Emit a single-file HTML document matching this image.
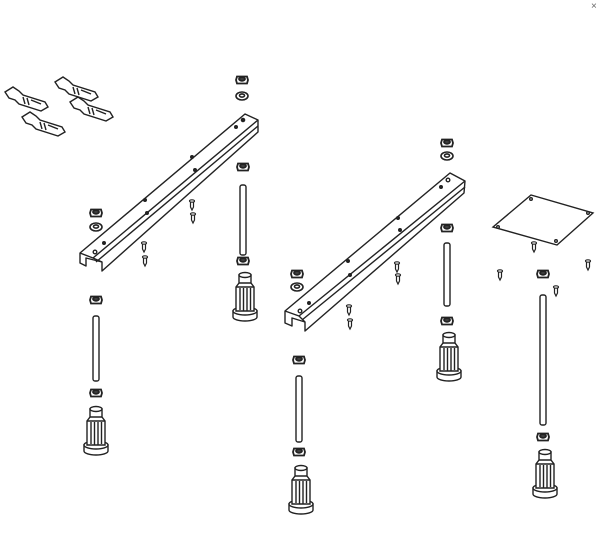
<!DOCTYPE html>
<html><head><meta charset="utf-8"><style>html,body{margin:0;padding:0;background:#fff}svg{display:block}</style></head>
<body>
<svg width="600" height="548" viewBox="0 0 600 548" xmlns="http://www.w3.org/2000/svg">
<defs>
<g id="nut" fill="#fff" stroke="#222" stroke-width="1.8">
<path d="M-5,-3.5 L5,-3.5 L6,0 L5,3.5 L-5,3.5 L-6,0Z" fill="#fff"/>
<ellipse cx="0" cy="-1" rx="3" ry="1.8" fill="#444"/>
</g>
<g id="washer" fill="#fff" stroke="#222" stroke-width="1.6">
<ellipse cx="0" cy="0" rx="6" ry="4"/>
<ellipse cx="0" cy="-0.5" rx="2.5" ry="1.6"/>
</g>
<g id="foot" fill="#fff" stroke="#222" stroke-width="1.4">
<path d="M-12,40 L-12,46 A12,4 0 0 0 12,46 L12,40Z"/>
<ellipse cx="0" cy="40" rx="12" ry="4"/>
<path d="M-6,4 L-6,12 L-9,16 L-9,40 L9,40 L9,16 L6,12 L6,4Z"/>
<ellipse cx="0" cy="4" rx="6" ry="2.5"/>
<path d="M-6,12 L6,12 M-9,16 L9,16 M-5,17 L-5,39 M-1.5,17 L-1.5,40 M2,17 L2,40 M5.5,17 L5.5,39" fill="none"/>
</g>
<g id="screw" fill="#fff" stroke="#222" stroke-width="1.2">
<path d="M-1.5,-4 L1.5,-4 L1.5,2 L0,5 L-1.5,2Z"/>
<ellipse cx="0" cy="-4" rx="2.5" ry="1.2"/>
</g>
<g id="clip" fill="#fff" stroke="#222" stroke-width="1.4">
<path d="M0,0 L8,-5 L14,-1 L18,3 L40,10 L43,15 L36,19 L14,12 L10,8 L4,6Z"/>
<path d="M18,5 L20,12 M22,6 L24,13 M26,8 L36,12" fill="none"/>
</g>
</defs>

<text x="591" y="9" font-family="Liberation Sans, sans-serif" font-size="10" fill="#666">×</text>

<use href="#clip" x="5" y="92"/>
<use href="#clip" x="55" y="82"/>
<use href="#clip" x="22" y="117"/>
<use href="#clip" x="70" y="102"/>

<g fill="#fff" stroke="#222" stroke-width="1.4" stroke-linejoin="round">
<path d="M80,253 L245,114 L258,120 L258,132 L102,271 L102,262 L86,258 L86,266 L80,263Z"/>
<path d="M80,253 L93,258 L258,120 M93,258 L102,262 M96,262 L258,126" fill="none"/>
<circle cx="243" cy="120" r="1.6" fill="#222"/><circle cx="236" cy="127" r="1.3" fill="#222"/>
<circle cx="192" cy="157" r="1.3" fill="#222"/><circle cx="195" cy="170" r="1.3" fill="#222"/>
<circle cx="145" cy="200" r="1.3" fill="#222"/><circle cx="147" cy="213" r="1.3" fill="#222"/>
<circle cx="104" cy="243" r="1.3" fill="#222"/><circle cx="95" cy="252" r="1.8"/>
</g>

<g fill="#fff" stroke="#222" stroke-width="1.4" stroke-linejoin="round">
<path d="M285,311 L450,173 L465,181 L464,193 L305,331 L305,322 L292,318 L292,326 L285,323Z"/>
<path d="M285,311 L299,316 L465,181 M299,316 L305,322 M302,320 L465,187" fill="none"/>
<circle cx="448" cy="180" r="1.8"/><circle cx="441" cy="187" r="1.3" fill="#222"/>
<circle cx="398" cy="218" r="1.3" fill="#222"/><circle cx="400" cy="230" r="1.3" fill="#222"/>
<circle cx="348" cy="261" r="1.3" fill="#222"/><circle cx="350" cy="275" r="1.3" fill="#222"/>
<circle cx="309" cy="303" r="1.3" fill="#222"/><circle cx="300" cy="311" r="1.8"/>
</g>

<g fill="#fff" stroke="#222" stroke-width="1.4">
<path d="M493,227 L531,195 L593,213 L557,245Z"/>
<circle cx="498" cy="227" r="1.3"/><circle cx="531" cy="199" r="1.3"/><circle cx="588" cy="213" r="1.3"/><circle cx="556" cy="241" r="1.3"/>
</g>

<use href="#nut" x="242" y="80"/><use href="#washer" x="242" y="96"/>
<use href="#nut" x="96" y="213"/><use href="#washer" x="96" y="227"/>
<use href="#nut" x="243" y="167"/>
<use href="#nut" x="243" y="261"/>
<use href="#nut" x="96" y="300"/>
<use href="#nut" x="96" y="393"/>
<use href="#nut" x="447" y="143"/><use href="#washer" x="447" y="156"/>
<use href="#nut" x="297" y="274"/><use href="#washer" x="297" y="287"/>
<use href="#nut" x="447" y="228"/>
<use href="#nut" x="447" y="321"/>
<use href="#nut" x="299" y="360"/>
<use href="#nut" x="299" y="452"/>
<use href="#nut" x="543" y="274"/>
<use href="#nut" x="543" y="437"/>

<g fill="#fff" stroke="#222" stroke-width="1.4">
<rect x="240" y="185" width="6" height="70" rx="2"/>
<rect x="93" y="316" width="6" height="65" rx="2"/>
<rect x="444" y="243" width="6" height="63" rx="2"/>
<rect x="296" y="376" width="6" height="66" rx="2"/>
<rect x="540" y="295" width="6" height="130" rx="2"/>
</g>

<use href="#foot" x="245" y="271"/>
<use href="#foot" x="96" y="405"/>
<use href="#foot" x="449" y="331"/>
<use href="#foot" x="301" y="464"/>
<use href="#foot" x="545" y="448"/>

<use href="#screw" x="192" y="205"/><use href="#screw" x="193" y="218"/>
<use href="#screw" x="144" y="247"/><use href="#screw" x="145" y="261"/>
<use href="#screw" x="397" y="267"/><use href="#screw" x="398" y="279"/>
<use href="#screw" x="349" y="310"/><use href="#screw" x="350" y="324"/>
<use href="#screw" x="534" y="247"/><use href="#screw" x="500" y="275"/>
<use href="#screw" x="588" y="265"/><use href="#screw" x="556" y="291"/>
</svg>
</body></html>
